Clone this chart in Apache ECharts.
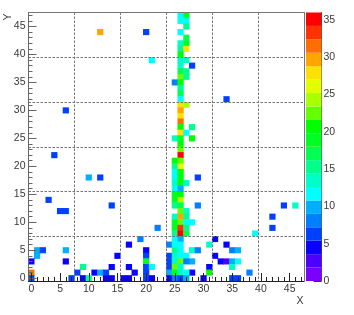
<!DOCTYPE html>
<html><head><meta charset="utf-8">
<style>html,body{margin:0;padding:0;background:#fff}#c{width:354px;height:315px}</style>
<script src="https://cdn.jsdelivr.net/npm/echarts@6/dist/echarts.min.js"></script>
</head><body><div id="c"></div>
<script>
// bins 0..47 on both axes
const binCount = 48;
const levelMax = 36;
const levelStep = 1.8;
const palette = ['#7a00ff','#4c00ff','#0a00ff','#0040ff','#0080ff','#00b0ff','#00ffff','#00ffc8','#00ff8c','#00ff50',
                 '#00ff20','#00ff00','#64ff00','#aaff00','#e1ff00','#ffe100','#ffa500','#ff6e00','#ff3200','#ff0000'];
// [x bin, y bin, count]
const sideCells = [
 [12,44,30],[20,44,6],[21,39,11.5],[28,38,6],[25,35,8],[34,32,7],[6,30,6],[4,22,6],
 [10,18,10],[12,18,6],[29,18,6],[3,14,6.5],[14,13,6],[29,13,8],[44,13,6],[46,13,13.5],
 [5,12,6],[6,12,6],[42,11,6],[22,9,8],[42,9,6],[39,8,11.5],[19,7,8],[32,7,5],
 [17,6,5],[31,6,13.5],[34,6,5],[24,6,8],
 [1,5,9.5],[2,5,6],[6,5,9.5],[20,5,5],[28,5,13.5],[29,5,8],[35,5,8],[36,5,10],
 [1,4,10],[15,4,5],[20,4,6],[24,4,6],[32,4,5],
 [0,3,5],[6,3,5],[20,3,19],[24,3,6],[28,3,10],[33,3,5],[34,3,3],[35,3,10],[36,3,11.5],
 [9,2,15],[14,2,5],[17,2,5],[20,2,6.5],[21,2,11.5],[24,2,6],[31,2,5],[35,2,13.5],
 [0,1,31.5],[8,1,6],[11,1,5],[12,1,10],[13,1,6.5],[18,1,5],[20,1,6.5],[24,1,10],[28,1,5],[31,1,20.5],[38,1,8],
 [0,0,7],[7,0,6],[9,0,5],[10,0,15],[13,0,5],[14,0,5],[16,0,5],[17,0,5],[20,0,7],[21,0,5],[24,0,5],[30,0,5],[35,0,5.5],[36,0,5.5]
];
const bandCells = [
 [26,47,11.5],[27,47,19],[26,46,11.5],[27,46,11.5],[27,45,15],[26,44,11.5],[27,43,17],
 [26,42,13.5],[27,42,19],[26,41,15],[27,41,28],[26,40,20.5],[26,39,13.5],[27,39,13.5],
 [26,38,13.5],[26,37,17],[27,37,15],[26,36,22],[27,36,15],
 [26,35,21],[26,34,15],[26,33,17],[26,32,11.5],[26,31,28],[27,31,24],[26,30,30],[26,29,28],[26,28,31.5],
 [26,27,20.5],[28,27,15],[26,26,27.5],[27,26,11.5],[25,25,13.5],[26,25,19],[28,25,20.5],
 [26,24,20.5],[26,23,23],[26,22,35],[25,21,20],[26,21,23],
 [25,20,15],[26,20,26],[25,19,11.5],[26,19,21],[25,18,11.5],[26,18,20.5],[25,17,13.5],[26,17,20],[27,17,14],
 [25,16,12],[26,16,9.5],[25,15,19],[26,15,20],[25,14,19],[26,14,24],[25,13,15],[26,13,17],
 [26,12,23],[27,12,14],[25,11,14],[26,11,30],[27,11,15],[25,10,19],[26,10,22],[27,10,11.5],[28,10,11.5],
 [25,9,19],[26,9,33],[27,9,15],[25,8,15],[26,8,35],[27,8,17],[25,7,11.5],[26,7,10],
 [25,6,11.5],[26,6,12.5],[25,5,15],[26,5,11.5],[25,4,14],[26,4,11.5],[27,4,11.5],
 [25,3,14],[26,3,22],[27,3,8],[25,2,23],[26,2,14],[25,1,19],[26,1,13],[27,1,11.5],
 [25,0,8],[26,0,6],[27,0,10]
];
const xLabelStep = 5, yLabelStep = 5, gridBinStep = 8;
const barTicks = 5;

const bins = Array.from({length: binCount}, (_, i) => String(i));
const pieces = palette.map((color, i) => ({min: i*levelStep, max: (i+1)*levelStep, color}));
const textColor = '#3a3a3a', frame = '#777', font = 'Liberation Sans', fs = 10.5;
const dash = {color:'#777', width:1, type:[2.5,1.5]};
const hidden = {show:false};

function mainAxis(pos, lineColor, tickLen, labelMargin){
  return {type:'category', data:bins, position:pos, boundaryGap:true,
    axisLine:{show:true,lineStyle:{color:lineColor,width:1}},
    axisTick:{show:true,inside:true,alignWithLabel:true,interval:0,length:tickLen,lineStyle:{color:lineColor,width:1}},
    axisLabel:{show:true,interval:4,color:textColor,fontFamily:font,fontSize:fs,margin:labelMargin,hideOverlap:false,showMinLabel:true},
    splitLine:{show:true,interval:gridBinStep-1,lineStyle:dash},
    splitArea:hidden, z:5};
}
function majorAxis(pos, lineColor, tickLen){
  return {type:'category', data:bins, position:pos, boundaryGap:true,
    axisLine:hidden,axisLabel:hidden,splitLine:hidden,
    axisTick:{show:true,inside:true,alignWithLabel:true,interval:xLabelStep-1,length:tickLen,lineStyle:{color:lineColor,width:1}}, z:5};
}
function edgeAxis(pos){
  return {type:'category', data:bins, position:pos, boundaryGap:true,
    axisLine:{show:true,lineStyle:{color:frame,width:1}},axisLabel:hidden,axisTick:hidden,splitLine:hidden, z:5};
}
const barSeries = palette.map((color) => ({
  type:'bar', stack:'bar', xAxisIndex:3, yAxisIndex:3, data:[levelStep],
  barWidth:'100%', itemStyle:{color}, silent:true, animation:false
}));

const chart = echarts.init(document.getElementById('c'), null, {renderer:'canvas'});
chart.setOption({
  animation:false, backgroundColor:'#fff',
  grid:[
    {left:28.5, right:354-304, top:12.5, bottom:315-281, containLabel:false},
    {left:306, right:354-321.5, top:12.5, bottom:315-281, containLabel:false}
  ],
  xAxis:[
    mainAxis('bottom','#222',4,3),
    majorAxis('bottom','#222',8),
    edgeAxis('top'),
    {gridIndex:1,type:'category',data:['scale'],axisLine:hidden,axisTick:hidden,axisLabel:hidden,splitLine:hidden}
  ],
  yAxis:[
    mainAxis('left','#666',4,3),
    majorAxis('left','#666',8),
    edgeAxis('right'),
    {gridIndex:1,type:'value',position:'right',min:0,max:levelMax,interval:barTicks,
      axisLine:{show:true,lineStyle:{color:'#555',width:1}},
      axisTick:{show:true,inside:true,length:8,lineStyle:{color:'#333',width:1}},
      axisLabel:{color:textColor,fontFamily:font,fontSize:fs,margin:2,showMaxLabel:false},
      splitLine:hidden}
  ],
  visualMap:{type:'piecewise',show:false,seriesIndex:0,dimension:2,pieces},
  series:[
    {type:'heatmap',xAxisIndex:0,yAxisIndex:0,data:sideCells.concat(bandCells),silent:true,progressive:0,z:2},
    ...barSeries
  ],
  graphic:[
    {type:'text',x:300,y:301,style:{text:'X',font:fs+'px "'+font+'"',fill:textColor,textAlign:'center',textVerticalAlign:'middle'}},
    {type:'text',x:8,y:17,rotation:Math.PI/2,style:{text:'Y',font:fs+'px "'+font+'"',fill:textColor,textAlign:'center',textVerticalAlign:'middle'}}
  ]
});
</script></body></html>
